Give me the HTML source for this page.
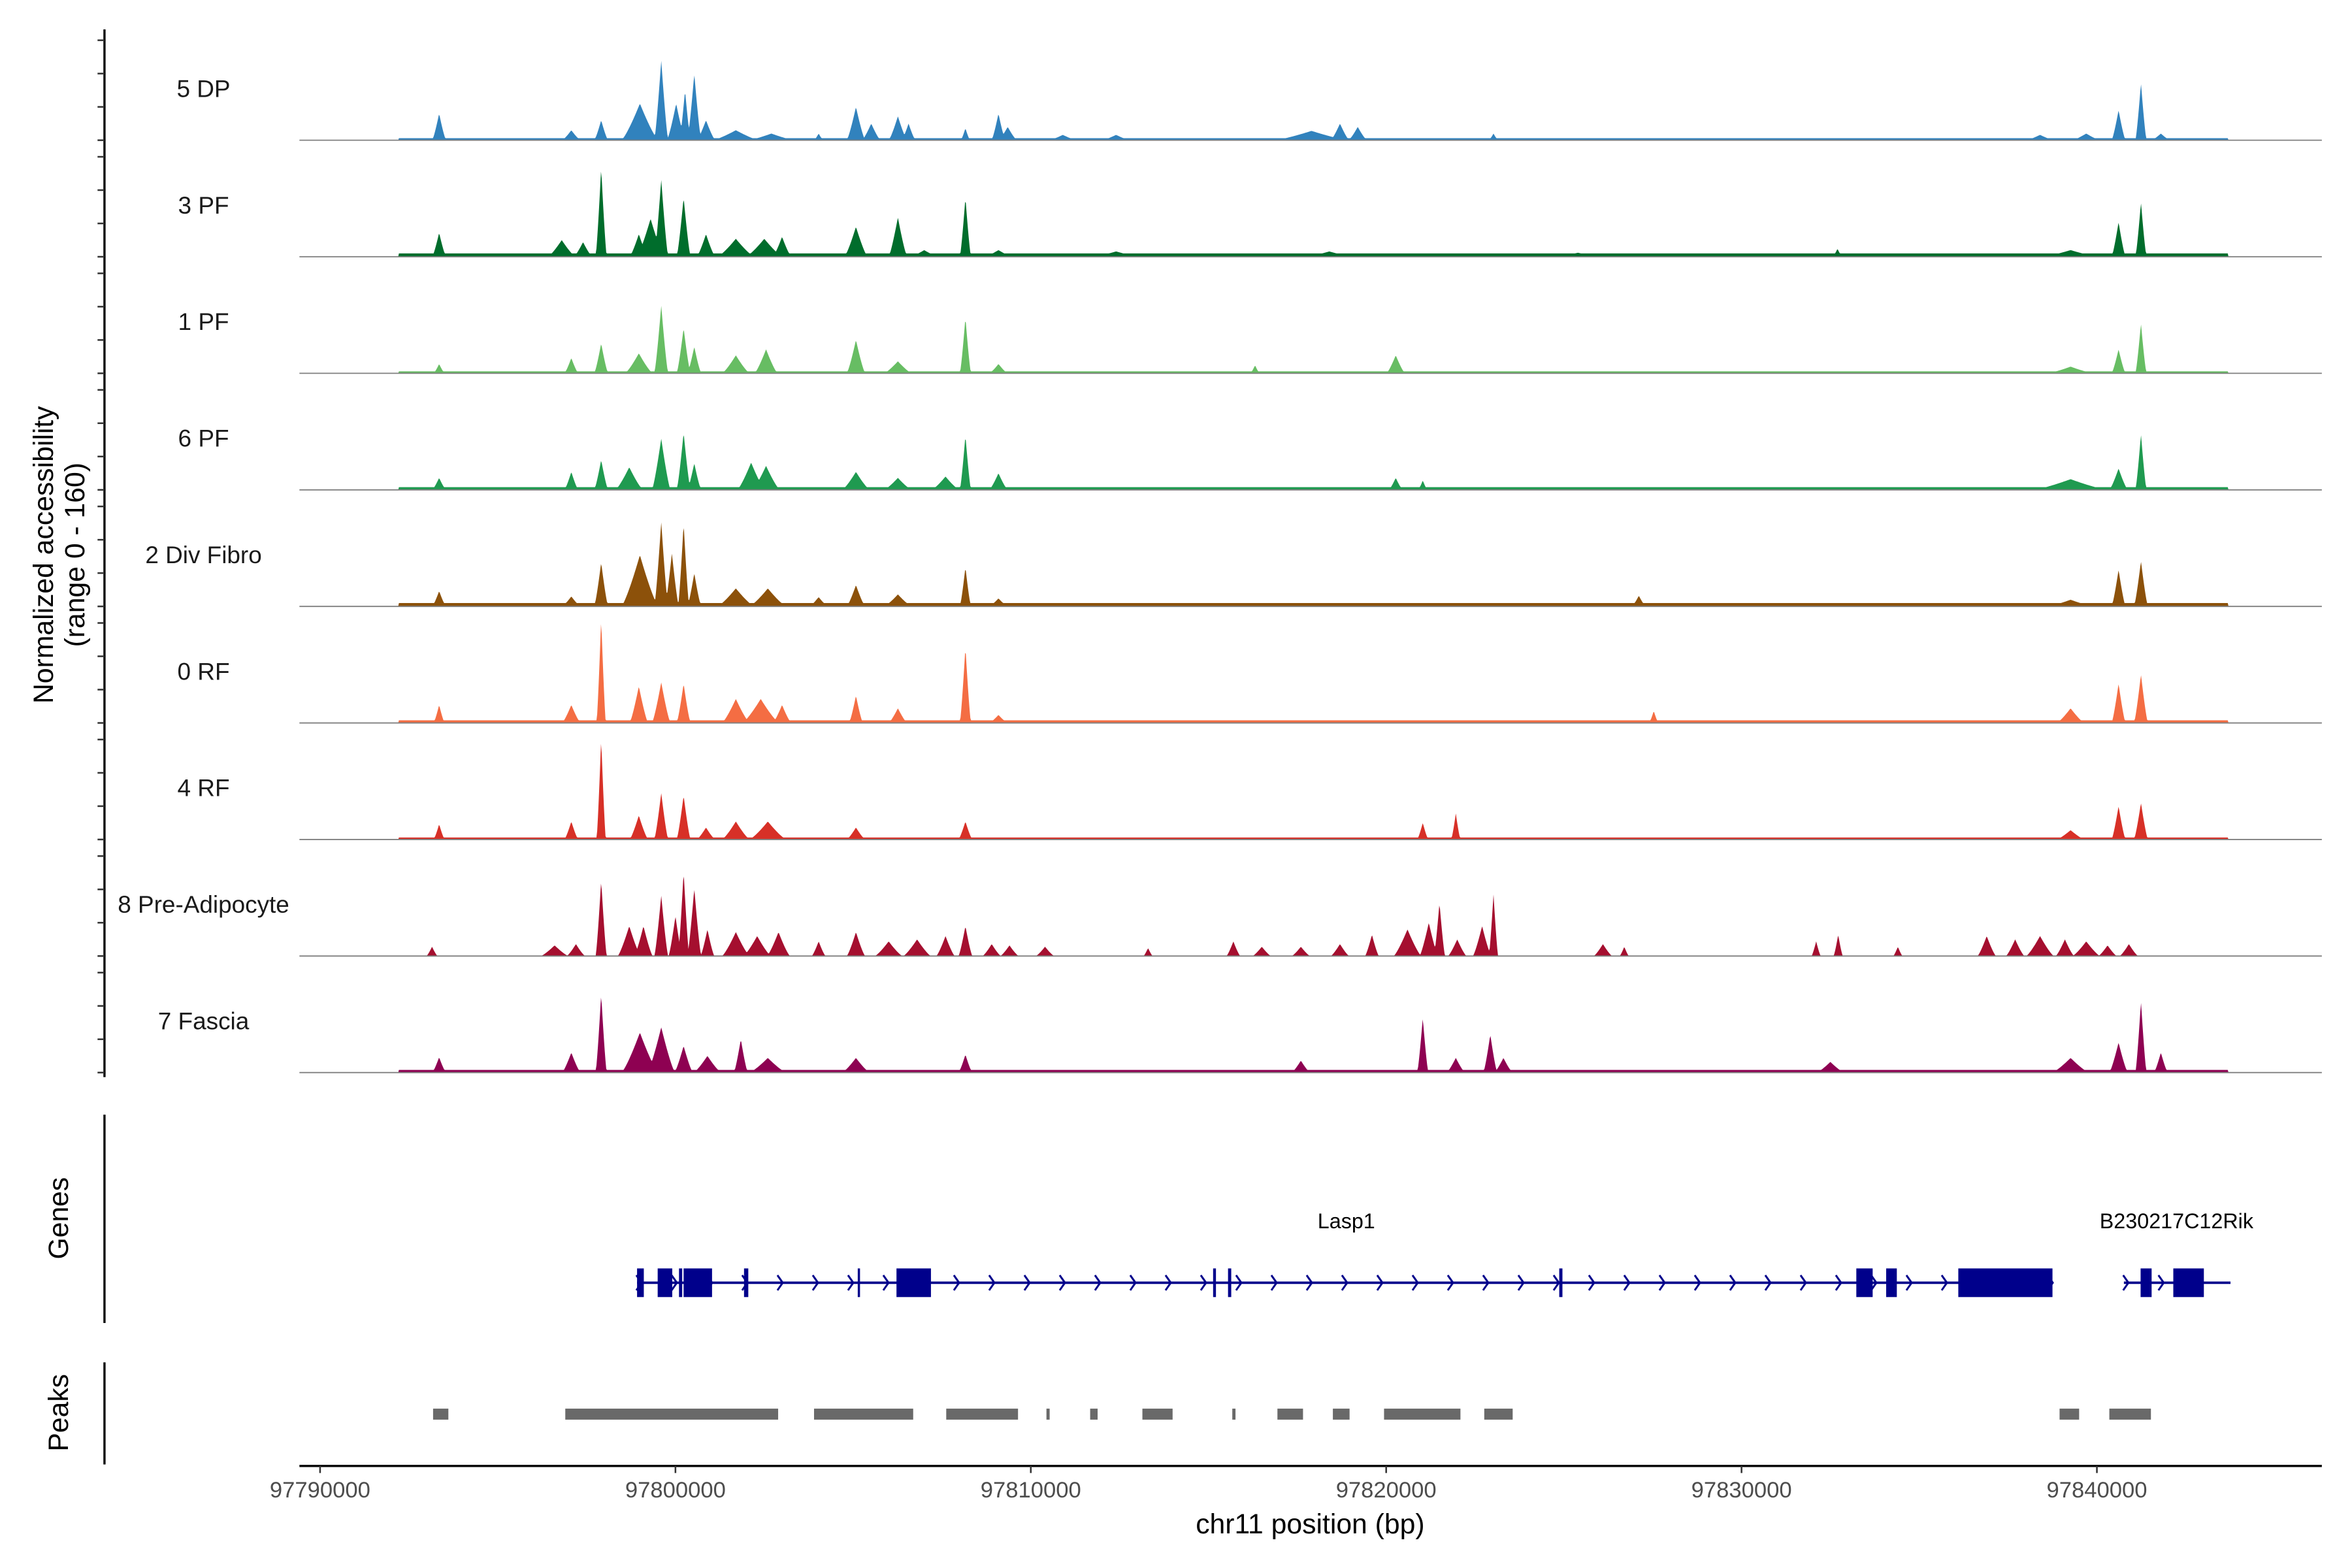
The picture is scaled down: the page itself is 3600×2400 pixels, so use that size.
<!DOCTYPE html>
<html><head><meta charset="utf-8"><style>
html,body{margin:0;padding:0;background:#fff}
svg{display:block}
text{font-family:"Liberation Sans",Arial,sans-serif}
</style></head><body>
<svg id="chart" xmlns="http://www.w3.org/2000/svg" width="3600" height="2400" viewBox="0 0 1560 1040">
<rect x="0" y="0" width="1560" height="1040" fill="#fff"/>
<g id="tracks"></g>
<g id="genes"></g>
<g id="peaks"></g>
<g id="axes"></g>
</svg>
<script>
// ---------- data (positions in kb, chr11) ----------
const trackNames = ["5 DP","3 PF","1 PF","6 PF","2 Div Fibro","0 RF","4 RF","8 Pre-Adipocyte","7 Fascia"];
const trackColors = ["#3182bd","#006d2c","#67bd63","#1f9a50","#8c510a","#f46d43","#d73027","#a50f2f","#8e0152"];
const trackFloor = [3,5,3,4,5,4,3,0,4];
const floorRange = [97792.2, 97843.7];
// peaks: [position kb, value (0-160), half-width kb]
const peaks5DP = [[97793.35,40,0.15],[97797.07,15,0.2],[97797.91,30,0.15],[97799.0,55,0.4],[97799.6,120,0.15],[97800.02,55,0.2],[97800.27,75,0.12],[97800.53,100,0.15],[97800.86,30,0.2],[97801.7,15,0.5],[97802.7,10,0.5],[97804.03,10,0.1],[97805.08,50,0.2],[97805.51,25,0.2],[97806.26,36,0.2],[97806.56,25,0.15],[97808.16,18,0.1],[97809.09,40,0.15],[97809.35,20,0.2],[97810.9,8,0.3],[97812.4,8,0.3],[97817.9,14,0.8],[97818.7,25,0.2],[97819.2,20,0.2],[97823.02,10,0.1],[97838.4,8,0.3],[97839.7,10,0.3],[97840.61,45,0.15],[97841.24,86,0.12],[97841.8,10,0.2]];
const peaks3PF = [[97793.35,36,0.15],[97796.8,25,0.3],[97797.4,22,0.2],[97797.91,134,0.12],[97798.97,34,0.2],[97799.3,57,0.3],[97799.6,116,0.15],[97800.23,89,0.15],[97800.86,34,0.2],[97801.7,27,0.4],[97802.5,27,0.4],[97803.0,30,0.2],[97805.08,45,0.25],[97806.26,59,0.2],[97807.0,10,0.3],[97808.16,89,0.12],[97809.09,10,0.3],[97812.4,8,0.5],[97818.4,8,0.5],[97825.4,6,0.5],[97832.7,12,0.1],[97839.26,10,0.6],[97840.61,52,0.15],[97841.24,82,0.12]];
const peaks1PF = [[97793.35,14,0.12],[97797.07,23,0.15],[97797.91,45,0.15],[97798.97,30,0.3],[97799.6,102,0.15],[97800.23,68,0.15],[97800.53,40,0.15],[97801.7,27,0.3],[97802.55,36,0.25],[97805.08,50,0.2],[97806.26,18,0.3],[97808.16,84,0.12],[97809.09,14,0.2],[97816.31,12,0.1],[97820.27,27,0.2],[97839.26,10,0.5],[97840.61,36,0.15],[97841.24,75,0.12]];
const peaks6PF = [[97793.35,18,0.15],[97797.07,27,0.15],[97797.91,45,0.15],[97798.7,34,0.3],[97799.6,77,0.2],[97800.23,86,0.15],[97800.53,40,0.15],[97802.13,41,0.3],[97802.55,36,0.3],[97805.08,27,0.3],[97806.26,18,0.3],[97807.6,20,0.3],[97808.16,82,0.12],[97809.09,25,0.2],[97820.27,18,0.15],[97821.03,14,0.1],[97839.26,16,0.8],[97840.61,32,0.2],[97841.24,84,0.12]];
const peaks2Div = [[97793.35,23,0.15],[97797.07,15,0.2],[97797.91,66,0.15],[97799.0,77,0.4],[97799.6,127,0.15],[97799.9,80,0.15],[97800.23,125,0.12],[97800.53,50,0.15],[97801.7,27,0.4],[97802.6,27,0.4],[97804.03,14,0.2],[97805.08,32,0.2],[97806.26,18,0.3],[97808.16,59,0.12],[97809.09,12,0.2],[97827.11,16,0.15],[97839.26,10,0.5],[97840.61,55,0.15],[97841.24,68,0.15]];
const peaks0RF = [[97793.35,27,0.12],[97797.07,27,0.2],[97797.91,157,0.1],[97798.97,55,0.2],[97799.6,61,0.2],[97800.23,59,0.15],[97801.7,36,0.3],[97802.4,36,0.4],[97803.0,27,0.2],[97805.08,41,0.15],[97806.26,22,0.2],[97808.16,114,0.12],[97809.09,12,0.2],[97827.53,18,0.1],[97839.26,22,0.3],[97840.61,59,0.15],[97841.24,73,0.15]];
const peaks4RF = [[97793.35,23,0.12],[97797.07,27,0.15],[97797.91,152,0.1],[97798.97,36,0.2],[97799.6,70,0.15],[97800.23,66,0.15],[97800.86,18,0.2],[97801.7,27,0.3],[97802.6,27,0.4],[97805.08,18,0.2],[97808.16,27,0.15],[97821.03,25,0.12],[97821.96,39,0.1],[97839.26,14,0.3],[97840.61,50,0.15],[97841.24,55,0.15]];
const peaks8Pre = [[97793.15,14,0.12],[97796.6,16,0.3],[97797.2,18,0.2],[97797.91,114,0.12],[97798.7,45,0.25],[97799.1,45,0.2],[97799.6,91,0.15],[97800.0,60,0.15],[97800.23,127,0.12],[97800.53,102,0.15],[97800.9,40,0.15],[97801.7,36,0.3],[97802.3,30,0.3],[97802.9,36,0.25],[97804.03,22,0.15],[97805.08,36,0.2],[97806.0,22,0.3],[97806.8,25,0.3],[97807.6,30,0.2],[97808.16,45,0.15],[97808.9,18,0.2],[97809.4,16,0.2],[97810.4,14,0.2],[97813.3,12,0.1],[97815.7,22,0.15],[97816.5,14,0.2],[97817.6,14,0.2],[97818.7,18,0.2],[97819.6,32,0.15],[97820.6,40,0.3],[97821.2,50,0.2],[97821.5,80,0.12],[97822.0,25,0.2],[97822.7,45,0.2],[97823.02,93,0.1],[97826.1,18,0.2],[97826.7,14,0.1],[97832.1,22,0.1],[97832.72,32,0.1],[97834.4,14,0.1],[97836.9,30,0.2],[97837.7,25,0.2],[97838.4,30,0.3],[97839.1,25,0.2],[97839.7,22,0.3],[97840.3,16,0.2],[97840.9,18,0.2]];
const peaks7Fas = [[97793.35,23,0.15],[97797.07,30,0.2],[97797.91,118,0.12],[97799.0,60,0.4],[97799.6,68,0.3],[97800.23,40,0.2],[97800.9,25,0.3],[97801.84,50,0.15],[97802.6,22,0.4],[97805.08,22,0.3],[97808.16,27,0.15],[97817.6,18,0.2],[97821.03,82,0.12],[97821.96,22,0.2],[97822.93,57,0.15],[97823.3,22,0.2],[97832.5,16,0.3],[97839.26,22,0.4],[97840.61,45,0.2],[97841.24,107,0.12],[97841.8,30,0.15]];
const trackPeaks = [peaks5DP,peaks3PF,peaks1PF,peaks6PF,peaks2Div,peaks0RF,peaks4RF,peaks8Pre,peaks7Fas];
const xTicks = [97790,97800,97810,97820,97830,97840];
const xTickLabels = ["97790000","97800000","97810000","97820000","97830000","97840000"];
const geneNames = ["Lasp1","B230217C12Rik"];
const geneSpans = [[97798.92,97838.75],[97840.76,97843.76]];
const geneLabelPos = [97818.88,97842.24];
const lasp1Exons = [[97798.92,97799.11],[97799.50,97799.91],[97800.10,97800.19],[97800.23,97801.03],[97801.93,97802.05],[97805.13,97805.19],[97806.22,97807.19],[97815.13,97815.21],[97815.55,97815.64],[97824.87,97824.96],[97833.23,97833.69],[97834.07,97834.37],[97836.10,97838.75]];
const rikExons = [[97841.23,97841.54],[97842.15,97843.01]];
const peakRegions = [[97793.18,97793.61],[97796.90,97802.89],[97803.90,97806.69],[97807.62,97809.64],[97810.44,97810.53],[97811.67,97811.88],[97813.14,97813.99],[97815.67,97815.76],[97816.94,97817.66],[97818.50,97818.97],[97819.94,97822.09],[97822.76,97823.56],[97838.95,97839.50],[97840.35,97841.52]];

// ---------- scales ----------
const NS="http://www.w3.org/2000/svg";
const X0=212.3, PXKB=23.57, LEFT=198.6, RIGHT=1540;
const xs = kb => X0 + (kb-97790)*PXKB;
const baselines = trackNames.map((n,i)=>93+i*77.3);
const yScale = v => v*0.442;
function mk(tag, attrs, parent){const e=document.createElementNS(NS,tag);for(const k in attrs)e.setAttribute(k,attrs[k]);parent.appendChild(e);return e;}

const gT=document.getElementById('tracks');
trackNames.forEach((name,i)=>{
  const g=mk('g',{},gT);
  
  
  const b=baselines[i], pk=trackPeaks[i];
  const x1=xs(floorRange[0]), x2=xs(floorRange[1]);
  let d='M'+LEFT+','+b;
  for(let x=LEFT;x<=x2+6;x+=0.5){
    const kb=97790+(x-X0)/PXKB;
    let v=(x>=x1&&x<=x2)?trackFloor[i]:0;
    for(const p of pk){const w=p[2]*1.3;const dd=Math.abs(kb-p[0])/w;if(dd<1){const s=p[1]*Math.pow(1-dd,1.25);if(s>v)v=s;}}
    d+=' L'+x.toFixed(1)+','+(b-yScale(Math.min(v,160))).toFixed(2);
  }
  d+=' L'+(x2+6)+','+b+' Z';
  const a=mk('path',{d:d,fill:trackColors[i],stroke:'none'},g);
  
  
  const bl=mk('line',{x1:LEFT,x2:RIGHT,y1:b,y2:b,stroke:'#7f7f7f','stroke-width':0.8},g);
  
  
  const t=mk('text',{x:135,y:b-28.7,'text-anchor':'middle','font-size':16,fill:'#1a1a1a'},g);
  t.textContent=name;
  
  
});

// ---------- genes ----------
const gG=document.getElementById('genes');
const GY=850.8;
geneSpans.forEach((s,gi)=>{
  const l=mk('line',{x1:xs(s[0]),x2:xs(s[1]),y1:GY,y2:GY,stroke:'#00008b','stroke-width':1.6},gG);
  
  
  for(let x=xs(s[0])+2;x<=xs(s[1])+0.5;x+=23.4){
    const c=mk('path',{d:`M${x-2.5},${GY-5} L${x+1},${GY} L${x-2.5},${GY+5}`,fill:'none',stroke:'#00008b','stroke-width':1.3},gG);
    
    
  }
  const t=mk('text',{x:xs(geneLabelPos[gi]),y:814.7,'text-anchor':'middle','font-size':14,fill:'#000'},gG);
  t.textContent=geneNames[gi];
  
  
});
[lasp1Exons,rikExons].forEach(ex=>ex.forEach(e=>{
  const r=mk('rect',{x:xs(e[0]),y:GY-9.5,width:Math.max(1.5,xs(e[1])-xs(e[0])),height:19,fill:'#00008b'},gG);
  
  
}));

// ---------- peaks ----------
const gP=document.getElementById('peaks');
peakRegions.forEach(p=>{
  const r=mk('rect',{x:xs(p[0]),y:934.3,width:Math.max(1.5,xs(p[1])-xs(p[0])),height:7.3,fill:'#696969'},gP);
  
  
});

// ---------- axes ----------
const gA=document.getElementById('axes');
function ln(x1,y1,x2,y2,w,c,name){const l=mk('line',{x1,y1,x2,y2,stroke:c,'stroke-width':w},gA);return l;}
ln(69.3,19.5,69.3,714.4,1.45,'#000','y-axis-line');
baselines.forEach(b=>{[0,50,100,150].forEach(v=>{if(b-yScale(v)>20)ln(64.7,b-yScale(v),69.3,b-yScale(v),1.1,'#333','y-axis-tick');});});
ln(69.3,739.3,69.3,877.5,1.45,'#000','genes-axis-line');
ln(69.3,903.6,69.3,971.3,1.45,'#000','peaks-axis-line');
ln(LEFT,972.3,RIGHT,972.3,1.45,'#000','x-axis-line');
xTicks.forEach((t,i)=>{
  ln(xs(t),972.3,xs(t),977,1.1,'#333','x-axis-tick');
  const tx=mk('text',{x:xs(t),y:993.2,'text-anchor':'middle','font-size':15,fill:'#4d4d4d'},gA);
  tx.textContent=xTickLabels[i];
  
  
});
const xt=mk('text',{x:869,y:1017,'text-anchor':'middle','font-size':18.5,fill:'#000'},gA);
xt.textContent='chr11 position (bp)';


const yt=mk('text',{transform:'translate(35,368) rotate(-90)','text-anchor':'middle','font-size':18.5,fill:'#000'},gA);
yt.textContent='Normalized accessibility';


const yt2=mk('text',{transform:'translate(56,368) rotate(-90)','text-anchor':'middle','font-size':18.5,fill:'#000'},gA);
yt2.textContent='(range 0 - 160)';


const gl=mk('text',{transform:'translate(45,808) rotate(-90)','text-anchor':'middle','font-size':18.5,fill:'#000'},gA);
gl.textContent='Genes';


const pl=mk('text',{transform:'translate(45,937) rotate(-90)','text-anchor':'middle','font-size':18.5,fill:'#000'},gA);
pl.textContent='Peaks';


</script>
</body></html>
